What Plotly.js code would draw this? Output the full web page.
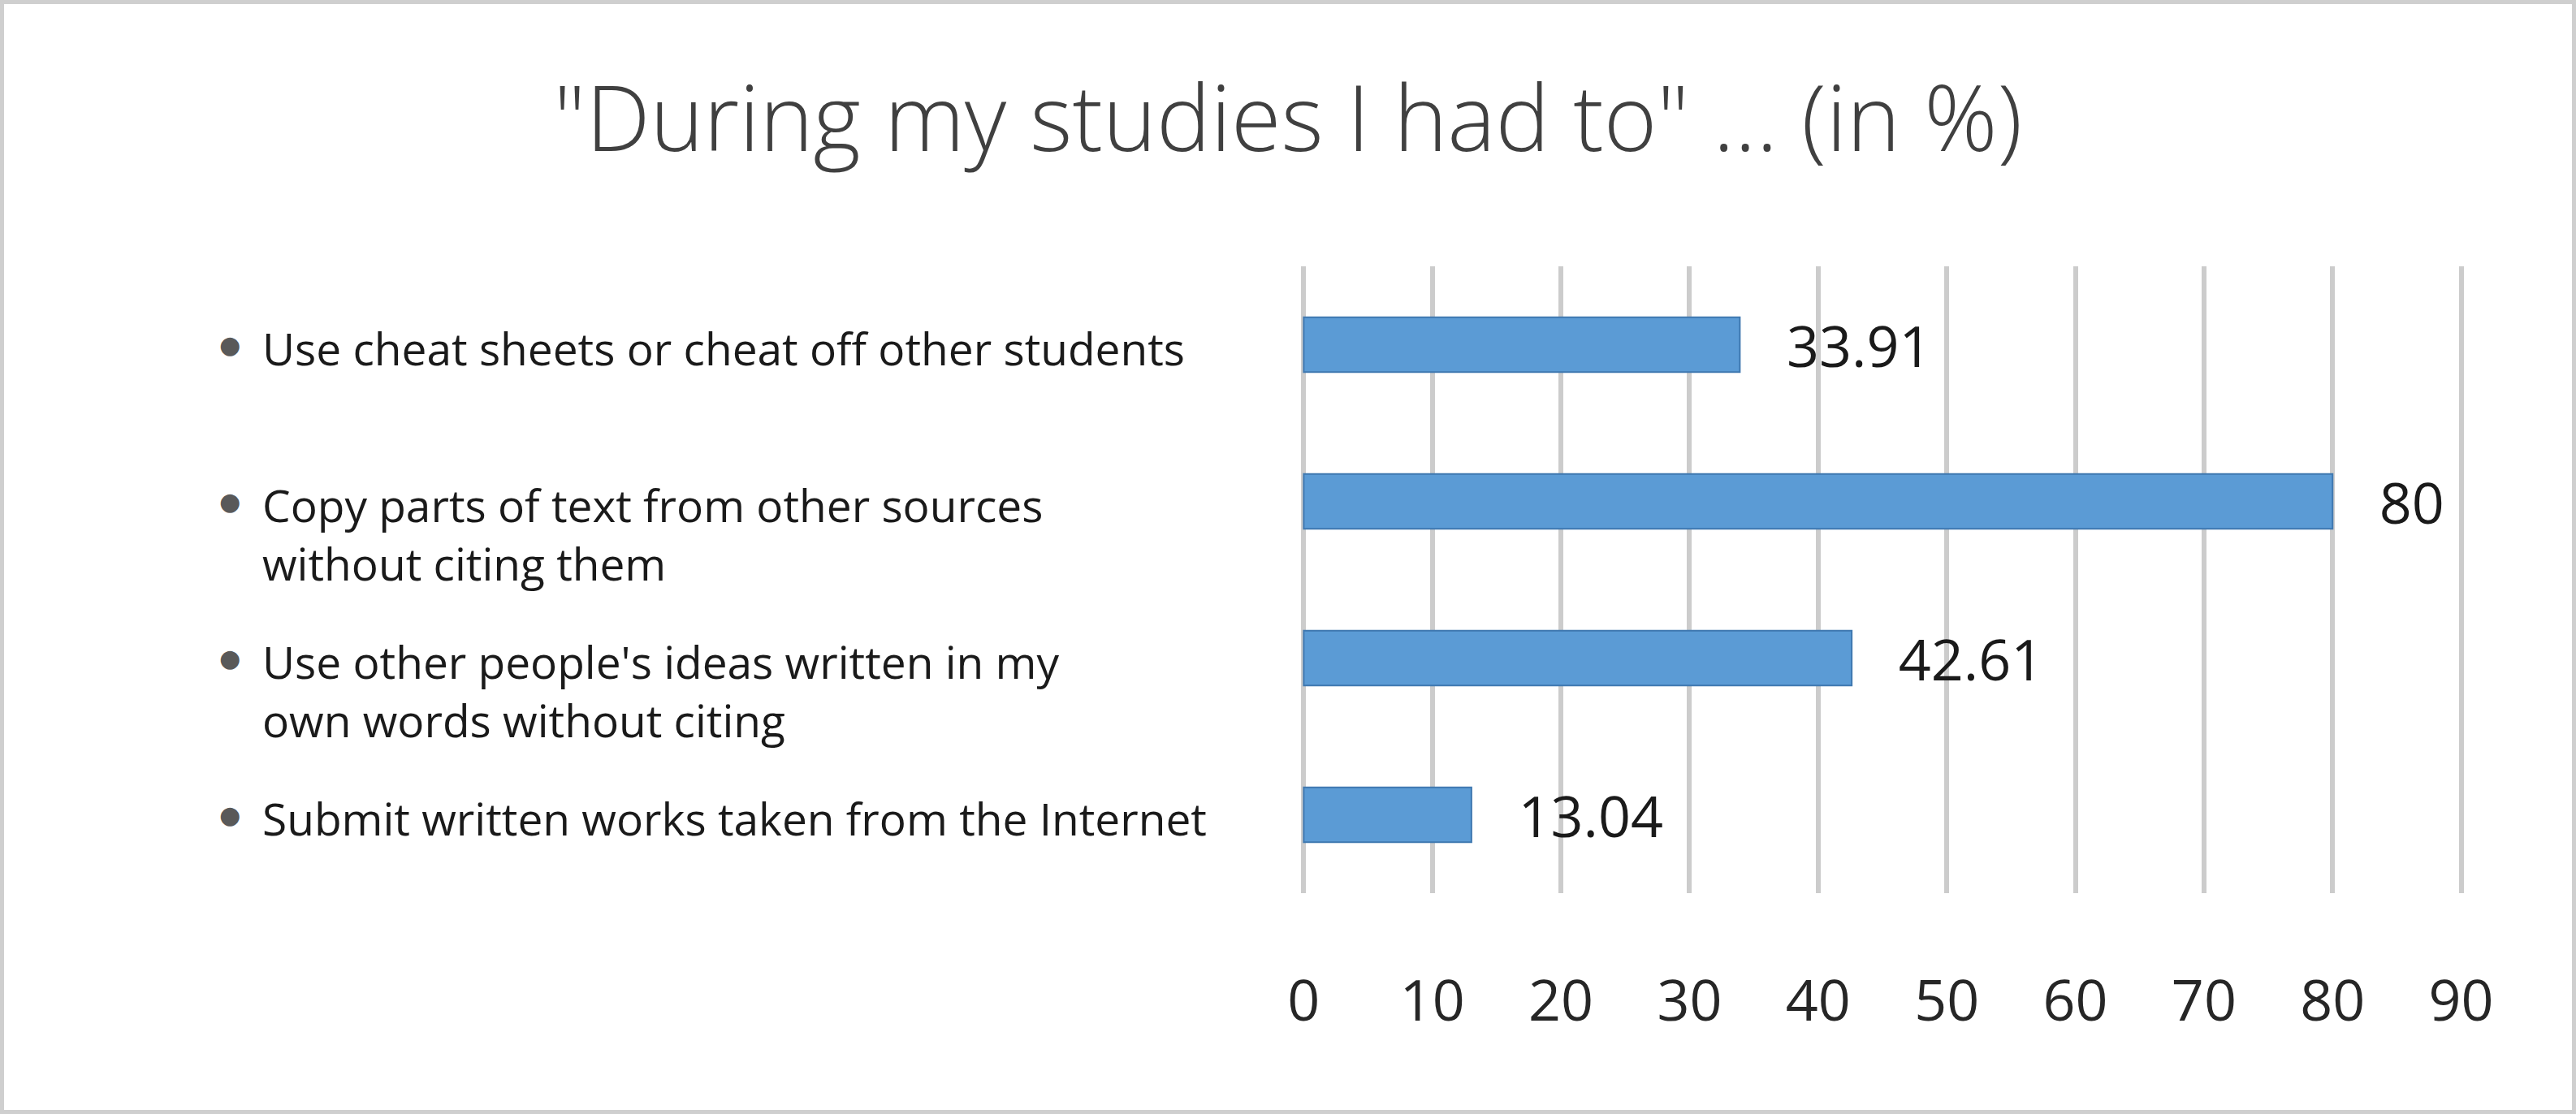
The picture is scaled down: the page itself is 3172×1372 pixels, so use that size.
<!DOCTYPE html>
<html>
<head>
<meta charset="utf-8">
<script src="https://cdn.plot.ly/plotly-3.0.1.min.js"></script>
<style>
  body { margin: 0; background: #fff; }
  #wrap { position: relative; width: 3172px; height: 1372px; }
  #frame { position: absolute; left: 0; top: 0; width: 3172px; height: 1372px;
           box-sizing: border-box; border: 5px solid #cfcfcf; pointer-events: none; }
</style>
</head>
<body>
<div id="wrap">
  <div id="myPlot"></div>
  <div id="frame"></div>
</div>
<script>
// answers, top to bottom
const labels = [
  "Use cheat sheets or cheat off other students",
  "Copy parts of text from other sources<br>without citing them",
  "Use other people's ideas written in my<br>own words without citing",
  "Submit written works taken from the Internet"
];
const percents = [33.91, 80, 42.61, 13.04];
const tickVals = [0, 10, 20, 30, 40, 50, 60, 70, 80, 90];

const font = "'Open Sans', 'Noto Sans', sans-serif";

const data = [{
  type: "bar",
  orientation: "h",
  y: labels,
  x: percents,
  marker: { color: "#5b9bd5", line: { color: "#3f78b0", width: 2 } },
  texttemplate: "\u00a0\u00a0\u00a0%{x}",
  textposition: "outside",
  constraintext: "none",
  cliponaxis: false,
  textfont: { family: font, size: 70, color: "#1a1a1a" },
  hoverinfo: "none"
}];

// bullet list on the left, one entry per bar
const annotations = [];
labels.forEach(function (lab) {
  annotations.push({
    xref: "paper", yref: "y", x: -0.923, y: lab,
    xanchor: "center", yanchor: "middle", yshift: 0,
    text: "\u25cf", showarrow: false,
    font: { family: "'DejaVu Sans', sans-serif", size: 30, color: "#595959" }
  });
  annotations.push({
    xref: "paper", yref: "y", x: -0.8965, y: lab,
    xanchor: "left", yanchor: "top", yshift: 36, align: "left",
    text: lab, showarrow: false,
    font: { family: font, size: 55, color: "#1a1a1a" }
  });
});

const layout = {
  width: 3172,
  height: 1372,
  margin: { l: 1603, r: 139, t: 328, b: 272 },
  paper_bgcolor: "#fff",
  plot_bgcolor: "#fff",
  showlegend: false,
  bargap: 0.65,
  title: {
    text: "\"During my studies I had to\" ... (in %)",
    font: { family: font, size: 112, color: "#404040", weight: 300 },
    x: 0.5, xref: "container", xanchor: "center",
    y: 0.893, yref: "container", yanchor: "middle"
  },
  xaxis: {
    range: [-0.15, 90.15],
    tickvals: tickVals,
    showgrid: true,
    gridcolor: "#cccccc",
    gridwidth: 6,
    zeroline: false,
    showline: false,
    ticks: "",
    ticklabelstandoff: 86,
    tickfont: { family: font, size: 70, color: "#262626" },
    fixedrange: true
  },
  yaxis: {
    type: "category",
    autorange: "reversed",
    showticklabels: false,
    showgrid: false,
    zeroline: false,
    showline: false,
    ticks: "",
    fixedrange: true
  },
  annotations: annotations
};

Plotly.newPlot("myPlot", data, layout, { staticPlot: true, displayModeBar: false });
</script>
</body>
</html>
